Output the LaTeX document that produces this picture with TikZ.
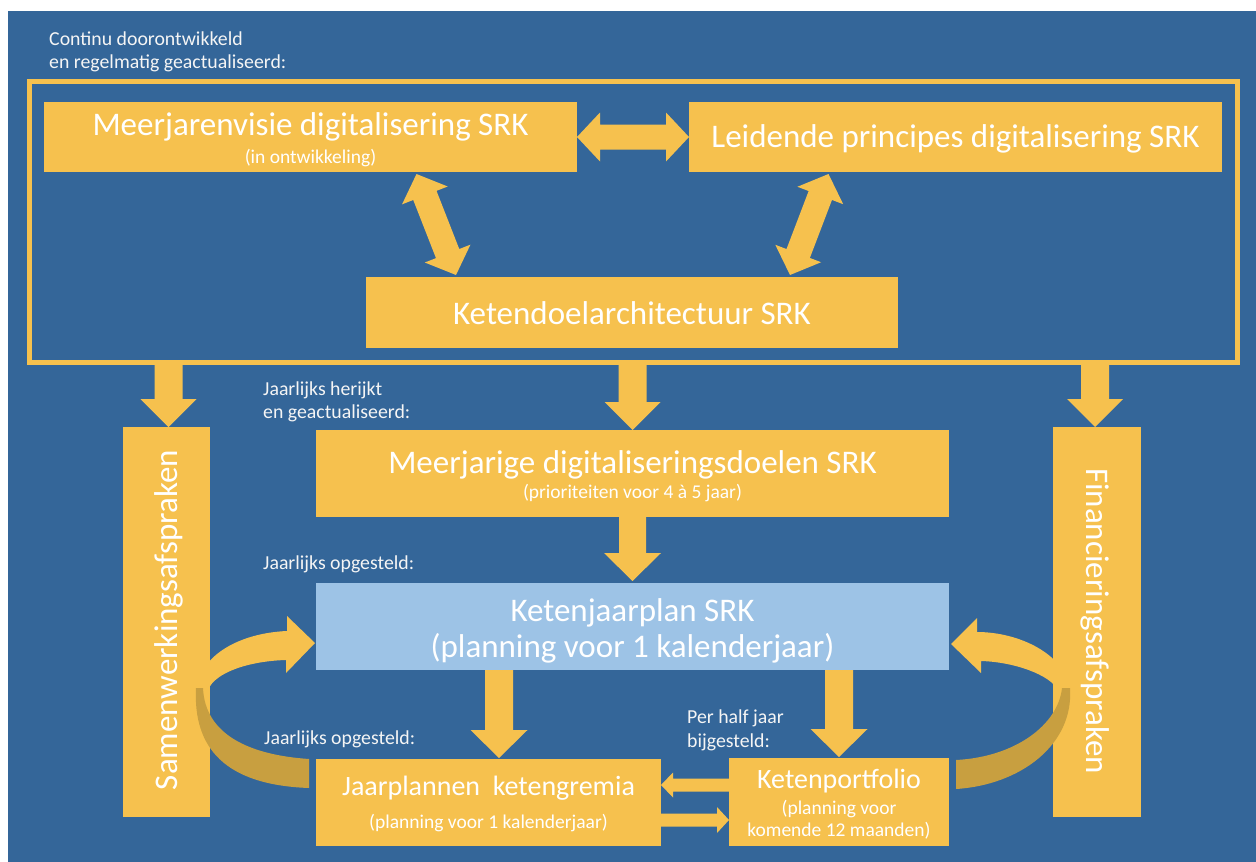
\documentclass[tikz,border=0pt]{standalone}
\usepackage{fontspec}
\setmainfont{Carlito}
\usetikzlibrary{calc}
\definecolor{bg}{RGB}{52,102,153}
\definecolor{yel}{RGB}{246,193,78}
\definecolor{lb}{RGB}{157,195,230}
\definecolor{dk}{RGB}{200,159,64}
\definecolor{lbltxt}{RGB}{245,245,245}
% single block arrow: from, to, shaft half width, head half width, head length
\newcommand{\sarrow}[5]{%
  \fill[yel] let \p1=(#1), \p2=(#2), \n1={atan2(\y2-\y1,\x2-\x1)} in
    ($(#1)+({\n1+90}:#3pt)$) --
    ($(#2)+({\n1+180}:#5pt)+({\n1+90}:#3pt)$) --
    ($(#2)+({\n1+180}:#5pt)+({\n1+90}:#4pt)$) --
    (#2) --
    ($(#2)+({\n1+180}:#5pt)+({\n1-90}:#4pt)$) --
    ($(#2)+({\n1+180}:#5pt)+({\n1-90}:#3pt)$) --
    ($(#1)+({\n1-90}:#3pt)$) -- cycle;}
% double block arrow
\newcommand{\darrow}[5]{%
  \fill[yel] let \p1=(#1), \p2=(#2), \n1={atan2(\y2-\y1,\x2-\x1)} in
    (#1) --
    ($(#1)+({\n1}:#5pt)+({\n1+90}:#4pt)$) --
    ($(#1)+({\n1}:#5pt)+({\n1+90}:#3pt)$) --
    ($(#2)+({\n1+180}:#5pt)+({\n1+90}:#3pt)$) --
    ($(#2)+({\n1+180}:#5pt)+({\n1+90}:#4pt)$) --
    (#2) --
    ($(#2)+({\n1+180}:#5pt)+({\n1-90}:#4pt)$) --
    ($(#2)+({\n1+180}:#5pt)+({\n1-90}:#3pt)$) --
    ($(#1)+({\n1}:#5pt)+({\n1-90}:#3pt)$) --
    ($(#1)+({\n1}:#5pt)+({\n1-90}:#4pt)$) -- cycle;}
\begin{document}
\begin{tikzpicture}[x=1pt,y=-1pt,
  box/.style={fill=yel, draw=none, inner sep=0pt, outer sep=0pt, anchor=north west},
  ttl/.style={text=white, font=\fontsize{33}{36}\selectfont, anchor=base, inner sep=0pt},
  mid/.style={text=white, font=\fontsize{28}{32}\selectfont, anchor=base, inner sep=0pt},
  sub/.style={text=white, font=\fontsize{19.5}{22}\selectfont, anchor=base, inner sep=0pt},
  lbl/.style={text=lbltxt, font=\fontsize{19.8}{23}\selectfont, anchor=base west, inner sep=0pt}]
\useasboundingbox (0,0) rectangle (1256,862);
\fill[white] (0,0) rectangle (1256,862);
\fill[bg] (8,11) rectangle (1256,862);
% frame
\node[draw=yel, line width=5pt, minimum width=1208pt, minimum height=281pt,
      anchor=north west, inner sep=0pt, outer sep=0pt] (frame) at (29.5,81.5) {};
% boxes
\node[box, minimum width=533pt, minimum height=70pt] (m1) at (44,102) {};
\node[box, minimum width=533pt, minimum height=70pt] (m2) at (689,102) {};
\node[box, minimum width=532pt, minimum height=71pt] (m3) at (366,277) {};
\node[box, minimum width=633pt, minimum height=87pt] (mj) at (316,430) {};
\node[box, fill=lb, minimum width=633pt, minimum height=87pt] (kjp) at (316,583) {};
\node[box, minimum width=345pt, minimum height=87pt] (jp) at (316,759) {};
\node[box, minimum width=220pt, minimum height=88pt] (kp) at (729,758) {};
\node[box, minimum width=87pt, minimum height=390pt] (samen) at (123,427) {};
\node[box, minimum width=88pt, minimum height=390pt] (fin) at (1053,427) {};
% arrows in the frame
\darrow{m1.east}{m2.west}{12.5}{24.5}{23}
\coordinate (d1a) at ($(m1.south)+(106,2)$);
\coordinate (d1b) at ($(m3.north)+(-176,-2)$);
\coordinate (d2a) at ($(m2.south)+(-127,2)$);
\coordinate (d2b) at ($(m3.north)+(158,-2)$);
\darrow{d1a}{d1b}{12.5}{24.5}{23}
\darrow{d2a}{d2b}{12.5}{24.5}{23}
% arrows out of the frame
\coordinate (sa2) at ($(samen.north)+(2,0)$);
\coordinate (sa1) at (sa2 |- frame.south);
\sarrow{sa1}{sa2}{14}{28}{28}
\coordinate (ma1) at (mj.north |- frame.south);
\sarrow{ma1}{mj.north}{14}{28}{28}
\coordinate (fa2) at ($(fin.north)+(-2,0)$);
\coordinate (fa1) at (fa2 |- frame.south);
\sarrow{fa1}{fa2}{14}{28}{28}
% lower arrows
\coordinate (kj2) at ($(kjp.north)+(0,-2)$);
\sarrow{mj.south}{kj2}{13.5}{28.5}{28}
\coordinate (jpa) at ($(jp.north)+(10.5,-1)$);
\coordinate (jps) at (kjp.south -| jpa);
\sarrow{jps}{jpa}{14}{28.5}{28}
\coordinate (kpa) at ($(kp.north)+(0,-1)$);
\coordinate (kps) at (kjp.south -| kpa);
\sarrow{kps}{kpa}{14}{28.5}{28}
\coordinate (kpl) at ($(kp.north west)+(0,27)$);
\coordinate (jpr) at (jp.east |- kpl);
\sarrow{kpl}{jpr}{6.5}{12.5}{12}
\coordinate (jpr2) at ($(jp.north east)+(0,61)$);
\coordinate (kpl2) at (kp.west |- jpr2);
\sarrow{jpr2}{kpl2}{6.5}{13}{12}
% curved arrows
\fill[yel] (196,690) .. controls (200,655) and (240,633) .. (287,631) -- (287,616) -- (315,643)
  -- (286,673) -- (286,660) .. controls (250,661) and (215,672) .. (208,690) -- cycle;
\fill[dk] (196,688) .. controls (193,748) and (225,785) .. (309,788) -- (309,759)
  .. controls (250,755) and (205,735) .. (203,688) -- cycle;
\fill[yel] (1070,690) .. controls (1066,655) and (1020,632) .. (977,632) -- (977,618) -- (951,644)
  -- (981,673) -- (981,661) .. controls (1015,662) and (1050,675) .. (1058,690) -- cycle;
\fill[dk] (1070,688) .. controls (1074,745) and (1020,785) .. (956,789) -- (956,760)
  .. controls (1015,757) and (1058,725) .. (1062,688) -- cycle;
% texts
\node[lbl] (t1) at (49,45) {Continu doorontwikkeld};
\node[lbl] (t2) at (49,68) {en regelmatig geactualiseerd:};
\node[ttl] (m1t) at ($(m1.north)+(0,33)$) {Meerjarenvisie digitalisering SRK};
\node[sub] (m1s) at ($(m1.north)+(0,61)$) {(in ontwikkeling)};
\node[ttl] (m2t) at ($(m2.north)+(0,45)$) {Leidende principes digitalisering SRK};
\node[ttl] (m3t) at ($(m3.north)+(0,47)$) {Ketendoelarchitectuur SRK};
\node[lbl] (t3) at (263,395) {Jaarlijks herijkt};
\node[lbl] (t4) at (263,418) {en geactualiseerd:};
\node[ttl] (mjt) at ($(mj.north)+(0,43)$) {Meerjarige digitaliseringsdoelen SRK};
\node[sub] (mjs) at ($(mj.north)+(0,68)$) {(prioriteiten voor 4 à 5 jaar)};
\node[lbl] (t5) at (263,569) {Jaarlijks opgesteld:};
\node[ttl] (kjt) at ($(kjp.north)+(0,38)$) {Ketenjaarplan SRK};
\node[ttl] (kjs) at ($(kjp.north)+(0,74)$) {(planning voor 1 kalenderjaar)};
\node[lbl] (t6) at (264,744) {Jaarlijks opgesteld:};
\node[lbl] (t7) at (687,723) {Per half jaar};
\node[lbl] (t8) at (687,747) {bijgesteld:};
\node[mid] (jpt) at ($(jp.north)+(0,36)$) {Jaarplannen\ \ ketengremia};
\node[sub] (jps2) at ($(jp.north)+(0,69)$) {(planning voor 1 kalenderjaar)};
\node[mid] (kpt) at ($(kp.north)+(0,30)$) {Ketenportfolio};
\node[sub] (kps1) at ($(kp.north)+(0,56)$) {(planning voor};
\node[sub] (kps2) at ($(kp.north)+(0,78)$) {komende 12 maanden)};
\node[text=white, font=\fontsize{33}{36}\selectfont, rotate=90, inner sep=0pt] (samt) at (169,620) {Samenwerkingsafspraken};
\node[text=white, font=\fontsize{33}{36}\selectfont, rotate=-90, inner sep=0pt] (fint) at (1095,621) {Financieringsafspraken};
\end{tikzpicture}
\end{document}
